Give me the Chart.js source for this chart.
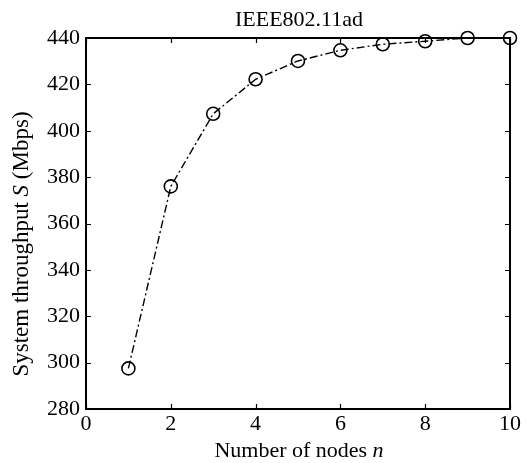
<!DOCTYPE html>
<html>
<head>
<meta charset="utf-8">
<script src="https://cdn.jsdelivr.net/npm/chart.js@4/dist/chart.umd.min.js"></script>
<style>
  html, body { margin: 0; padding: 0; background: #fff; }
  #wrap { width: 527px; height: 463px; position: relative; }
</style>
</head>
<body>
<div id="wrap"><canvas id="chart"></canvas></div>
<script>
const nodes = [1, 2, 3, 4, 5, 6, 7, 8, 9, 10];
const throughput = [297.5, 376, 407.3, 422.2, 430.1, 434.7, 437.3, 438.6, 440, 440];
const xTicks = [0, 2, 4, 6, 8, 10];
const yTicks = [280, 300, 320, 340, 360, 380, 400, 420, 440];

const SERIF = '"Liberation Serif", "DejaVu Serif", serif';

// frame, inward ticks on all four sides, title and mixed-style axis titles
const framePlugin = {
  id: 'frame',
  afterDraw(chart) {
    const { ctx, chartArea: a, scales } = chart;
    const len = 5;
    ctx.save();
    ctx.strokeStyle = '#000';
    ctx.lineWidth = 1.2;
    xTicks.forEach((v) => {
      const px = Math.round(scales.x.getPixelForValue(v)) + 0.5;
      ctx.beginPath();
      ctx.moveTo(px, a.bottom); ctx.lineTo(px, a.bottom - len);
      ctx.moveTo(px, a.top); ctx.lineTo(px, a.top + len);
      ctx.stroke();
    });
    yTicks.forEach((v) => {
      const py = Math.round(scales.y.getPixelForValue(v)) + 0.5;
      ctx.beginPath();
      ctx.moveTo(a.left, py); ctx.lineTo(a.left + len, py);
      ctx.moveTo(a.right, py); ctx.lineTo(a.right - len, py);
      ctx.stroke();
    });
    ctx.lineWidth = 2;
    ctx.strokeRect(a.left, a.top, a.right - a.left, a.bottom - a.top);

    ctx.fillStyle = '#000';
    ctx.textBaseline = 'alphabetic';
    ctx.textAlign = 'center';
    ctx.font = `22px ${SERIF}`;
    ctx.fillText('IEEE802.11ad', (a.left + a.right) / 2 + 1, 26);

    drawMixed(ctx, [['Number of nodes ', false], ['n', true]], 22, (a.left + a.right) / 2 + 1, 457);

    ctx.translate(28, 244);
    ctx.rotate(-Math.PI / 2);
    drawMixed(ctx, [['System throughput ', false], ['S', true], [' (Mbps)', false]], 23, 0, 0);
    ctx.restore();
  },
};

function drawMixed(ctx, parts, size, cx, y) {
  const fonts = parts.map(([, it]) => `${it ? 'italic ' : ''}${size}px ${SERIF}`);
  let total = 0;
  const widths = parts.map(([t], i) => { ctx.font = fonts[i]; const w = ctx.measureText(t).width; total += w; return w; });
  let x = cx - total / 2;
  ctx.textAlign = 'left';
  parts.forEach(([t], i) => { ctx.font = fonts[i]; ctx.fillText(t, x, y); x += widths[i]; });
}

new Chart(document.getElementById('chart'), {
  type: 'line',
  data: {
    datasets: [{
      data: nodes.map((n, i) => ({ x: n, y: throughput[i] })),
      borderColor: '#000',
      borderWidth: 1.4,
      borderDash: [8, 3, 2, 3],
      pointRadius: 6.5,
      pointBorderWidth: 1.6,
      pointBorderColor: '#000',
      pointBackgroundColor: 'rgba(0,0,0,0)',
      tension: 0,
    }],
  },
  options: {
    responsive: true,
    maintainAspectRatio: false,
    animation: false,
    clip: false,
    layout: { padding: { top: 38, right: 17, left: 0, bottom: 0 } },
    plugins: { legend: { display: false }, tooltip: { enabled: false } },
    scales: {
      x: {
        type: 'linear',
        min: 0,
        max: 10,
        afterFit(scale) { scale.height = 54; },
        afterBuildTicks(scale) { scale.ticks = xTicks.map((v) => ({ value: v })); },
        ticks: { color: '#000', font: { family: SERIF, size: 22 }, padding: 2, maxRotation: 0 },
        grid: { display: false, drawTicks: false },
        border: { display: false },
      },
      y: {
        min: 280,
        max: 440,
        afterFit(scale) { scale.width = 86; },
        afterBuildTicks(scale) { scale.ticks = yTicks.map((v) => ({ value: v })); },
        ticks: { color: '#000', font: { family: SERIF, size: 22 }, padding: 6 },
        grid: { display: false, drawTicks: false },
        border: { display: false },
      },
    },
  },
  plugins: [framePlugin],
});
</script>
</body>
</html>
